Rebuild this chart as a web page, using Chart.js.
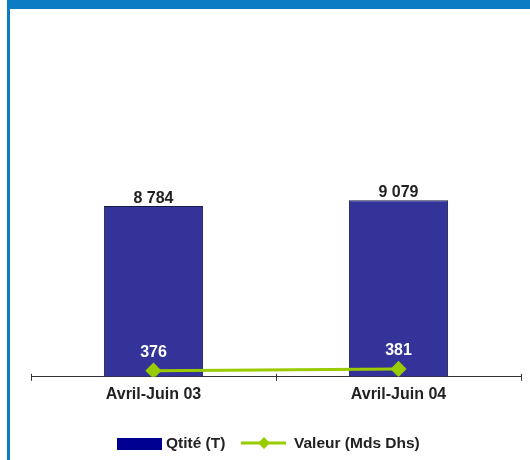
<!DOCTYPE html>
<html><head><meta charset="utf-8">
<script src="https://cdn.jsdelivr.net/npm/chart.js@4"></script>
<style>
html,body{margin:0;padding:0;background:#fff;}
#wrap{position:relative;width:530px;height:460px;overflow:hidden;background:#fff;}
#topbar{position:absolute;left:7px;top:0;width:523px;height:9px;background:#0a7dc4;}
#leftbar{position:absolute;left:7px;top:0;width:3px;height:460px;background:#0a7dc4;}
canvas{position:absolute;left:0;top:0;}
</style></head><body>
<div id="wrap"><canvas id="c" width="530" height="460"></canvas><div id="topbar"></div><div id="leftbar"></div></div>
<script>
const categories = ['Avril-Juin 03', 'Avril-Juin 04'];
const qtite = [8784, 9079];
const valeur = [376, 381];
const qtiteLabels = ['8 784', '9 079'];
const valeurLabels = ['376', '381'];
const seriesNames = ['Qtité (T)', 'Valeur (Mds Dhs)'];

const FONT = 'Arial, "Liberation Sans", sans-serif';
const GREEN = '#99cc00';

const labelPlugin = {
  id: 'valueLabels',
  afterDatasetsDraw(chart) {
    const ctx = chart.ctx;
    ctx.save();
    ctx.font = 'bold 16px ' + FONT;
    ctx.textAlign = 'center';
    ctx.textBaseline = 'alphabetic';
    chart.getDatasetMeta(1).data.forEach((el, i) => {
      ctx.fillStyle = '#222222';
      ctx.fillText(qtiteLabels[i], el.x, el.y - 3);
    });
    chart.getDatasetMeta(0).data.forEach((el, i) => {
      ctx.fillStyle = '#ffffff';
      ctx.fillText(valeurLabels[i], el.x, el.y - 14);
    });
    ctx.restore();
  },
  afterDraw(chart) {
    const ctx = chart.ctx;
    ctx.save();
    // legend
    ctx.font = 'bold 15.5px ' + FONT;
    ctx.textBaseline = 'middle';
    ctx.textAlign = 'left';
    ctx.fillStyle = '#000090';
    ctx.fillRect(117, 438, 45, 12);
    ctx.fillStyle = '#222222';
    ctx.fillText(seriesNames[0], 166, 444);
    ctx.strokeStyle = GREEN;
    ctx.lineWidth = 3;
    ctx.beginPath(); ctx.moveTo(241, 443); ctx.lineTo(286, 443); ctx.stroke();
    ctx.fillStyle = GREEN;
    ctx.beginPath(); ctx.moveTo(264, 437); ctx.lineTo(270, 443); ctx.lineTo(264, 449); ctx.lineTo(258, 443); ctx.closePath(); ctx.fill();
    ctx.fillStyle = '#222222';
    ctx.fillText(seriesNames[1], 294, 444);
    // ticks crossing above the axis
    const xs = chart.scales.x;
    const yb = chart.chartArea.bottom;
    ctx.strokeStyle = '#333333';
    ctx.lineWidth = 1;
    const n = categories.length;
    for (let i = 0; i <= n; i++) {
      const px = Math.round(xs.left + (xs.right - xs.left) * i / n) + 0.5;
      ctx.beginPath(); ctx.moveTo(px, yb - 3); ctx.lineTo(px, yb); ctx.stroke();
    }
    ctx.restore();
  }
};

new Chart(document.getElementById('c'), {
  type: 'bar',
  data: {
    labels: categories,
    datasets: [
      {
        type: 'line', label: seriesNames[1], data: valeur, yAxisID: 'y2', order: 0,
        borderColor: GREEN, backgroundColor: GREEN, borderWidth: 3,
        pointStyle: 'rectRot', pointRadius: 6, pointHoverRadius: 6,
        pointBackgroundColor: GREEN, pointBorderColor: GREEN, tension: 0
      },
      {
        type: 'bar', label: seriesNames[0], data: qtite, yAxisID: 'y', order: 1,
        backgroundColor: '#333399', borderColor: '#1a1a40', borderWidth: 1,
        categoryPercentage: 0.405, barPercentage: 1.0
      }
    ]
  },
  options: {
    responsive: false,
    animation: false,
    layout: { padding: { left: 31, right: 3, top: 27, bottom: 52 } },
    plugins: { legend: { display: false }, tooltip: { enabled: false } },
    scales: {
      x: {
        grid: { display: true, drawOnChartArea: false, drawTicks: true, tickLength: 4, color: '#333333', offset: true },
        border: { display: true, color: '#333333', width: 1 },
        ticks: { color: '#222222', font: { family: FONT, size: 16, weight: 'bold' }, padding: 4 }
      },
      y: { display: false, min: 0, max: 18000 },
      y2: { display: false, min: 358, max: 1383 }
    }
  },
  plugins: [labelPlugin]
});
</script>
</body></html>
